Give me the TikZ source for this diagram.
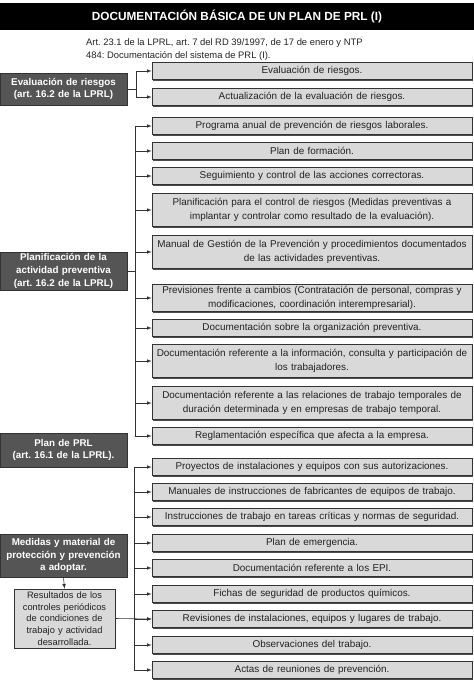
\documentclass[tikz,border=0pt]{standalone}
\usepackage{fontspec}
\setmainfont{Liberation Sans}
\usetikzlibrary{shadows}
\definecolor{boxgray}{HTML}{D9D9D9}
\definecolor{headgray}{HTML}{555555}
\definecolor{edgegray}{HTML}{333333}
\definecolor{textgray}{HTML}{222222}
\frenchspacing

\begin{document}
\begin{tikzpicture}[x=1pt,y=-1pt,
    docbox/.style={draw=edgegray,fill=boxgray,line width=.7pt,text=textgray,
      text width=318pt,align=center,minimum width=320pt,minimum height=17.5pt,
      inner xsep=1pt,inner ysep=2pt,font=\fontsize{9.9}{13.5}\selectfont,
      drop shadow={shadow xshift=1.2pt,shadow yshift=-1.2pt,opacity=1,fill=black!70}},
    headbox/.style={draw=edgegray,fill=headgray,line width=.7pt,text=white,
      text width=125pt,align=center,minimum width=127pt,inner sep=1pt,
      font=\fontsize{9.8}{12.8}\selectfont\bfseries,
      drop shadow={shadow xshift=1.2pt,shadow yshift=-1.2pt,opacity=1,fill=black!70}},
    arr/.style={-latex,draw=edgegray,line width=.6pt}]
      \useasboundingbox (0,0) rectangle (474,686);
      \node[fill=black,minimum width=474pt,minimum height=27pt,text=white,
        font=\fontsize{11.8}{13}\selectfont\bfseries] (title) at (237,16.5)
        {DOCUMENTACIÓN BÁSICA DE UN PLAN DE PRL (I)};
      \node[anchor=north west,align=left,inner sep=0pt,text=textgray,
        font=\fontsize{9.4}{13}\selectfont] (ref) at (86,38)
        {Art. 23.1 de la LPRL, art. 7 del RD 39/1997, de 17 de enero y NTP\\
         484: Documentación del sistema de PRL (I).};
      \node[docbox] (r1) at (312,71) {Evaluación de riesgos.};
      \node[docbox] (r2) at (312,97) {Actualización de la evaluación de riesgos.};
      \node[docbox] (p1) at (312,126) {Programa anual de prevención de riesgos laborales.};
      \node[docbox] (p2) at (312,151) {Plan de formación.};
      \node[docbox] (p3) at (312,176) {Seguimiento y control de las acciones correctoras.};
      \node[docbox,minimum height=33pt] (p4) at (312,210)
        {Planificación para el control de riesgos (Medidas preventivas a\\
         implantar y controlar como resultado de la evaluación).};
      \node[docbox,minimum height=33pt] (p5) at (312,252)
        {Manual de Gestión de la Prevención y procedimientos documentados\\
         de las actividades preventivas.};
      \node[docbox,minimum height=26pt] (p6) at (312,298)
        {Previsiones frente a cambios (Contratación de personal, compras y\\
         modificaciones, coordinación interempresarial).};
      \node[docbox] (p7) at (312,328) {Documentación sobre la organización preventiva.};
      \node[docbox,minimum height=33pt] (p8) at (312,361)
        {Documentación referente a la información, consulta y participación de\\
         los trabajadores.};
      \node[docbox,minimum height=33pt] (p9) at (312,403)
        {Documentación referente a las relaciones de trabajo temporales de\\
         duración determinada y en empresas de trabajo temporal.};
      \node[docbox] (p10) at (312,436) {Reglamentación específica que afecta a la empresa.};
      \node[docbox] (m1) at (312,467) {Proyectos de instalaciones y equipos con sus autorizaciones.};
      \node[docbox] (m2) at (312,492) {Manuales de instrucciones de fabricantes de equipos de trabajo.};
      \node[docbox] (m3) at (312,517) {Instrucciones de trabajo en tareas críticas y normas de seguridad.};
      \node[docbox] (m4) at (312,543) {Plan de emergencia.};
      \node[docbox] (m5) at (312,568) {Documentación referente a los EPI.};
      \node[docbox] (m6) at (312,594) {Fichas de seguridad de productos químicos.};
      \node[docbox] (m7) at (312,619) {Revisiones de instalaciones, equipos y lugares de trabajo.};
      \node[docbox] (m8) at (312,645) {Observaciones del trabajo.};
      \node[docbox] (m9) at (312,670) {Actas de reuniones de prevención.};
      \node[headbox,minimum height=32pt] (eval) at (63.5,89)
        {Evaluación de riesgos\\(art. 16.2 de la LPRL)};
      \node[headbox,minimum height=38pt] (plan) at (63.5,271)
        {Planificación de la\\actividad preventiva\\(art. 16.2 de la LPRL)};
      \node[headbox,minimum height=34pt] (prl) at (63.5,450)
        {Plan de PRL\\(art. 16.1 de la LPRL).};
      \node[headbox,minimum height=43pt] (medidas) at (63.5,555.5)
        {Medidas y material de\\protección y prevención\\a adoptar.};
      \node[docbox,text width=99pt,minimum width=101pt,minimum height=59pt,
        font=\fontsize{9.3}{11.8}\selectfont] (result) at (64.5,618.5)
        {Resultados de los\\controles periódicos\\de condiciones de\\trabajo y actividad\\desarrollada.};
      \draw[arr] (eval.east) -- ++(9,0) |- (r1.west);
      \draw[arr] (eval.east) -- ++(9,0) |- (r2.west);
      \foreach \n in {p1,p2,p3,p4,p5,p6,p7,p8,p9,p10}
        \draw[arr] (plan.east) -- ++(8,0) |- (\n.west);
      \coordinate (mtop) at (134,467);
      \coordinate (mbot) at (134,670);
      \draw[draw=edgegray,line width=.6pt] (mtop) -- (mbot);
      \foreach \n in {m1,m2,m3,m4,m5,m6,m7,m8,m9}
        \draw[arr] (mtop |- \n.west) -- (\n.west);
      \draw[arr] (medidas.south) -- (result.north);
      \draw[arr] (result.east) -- (m7.west);
    \end{tikzpicture}
\end{document}
